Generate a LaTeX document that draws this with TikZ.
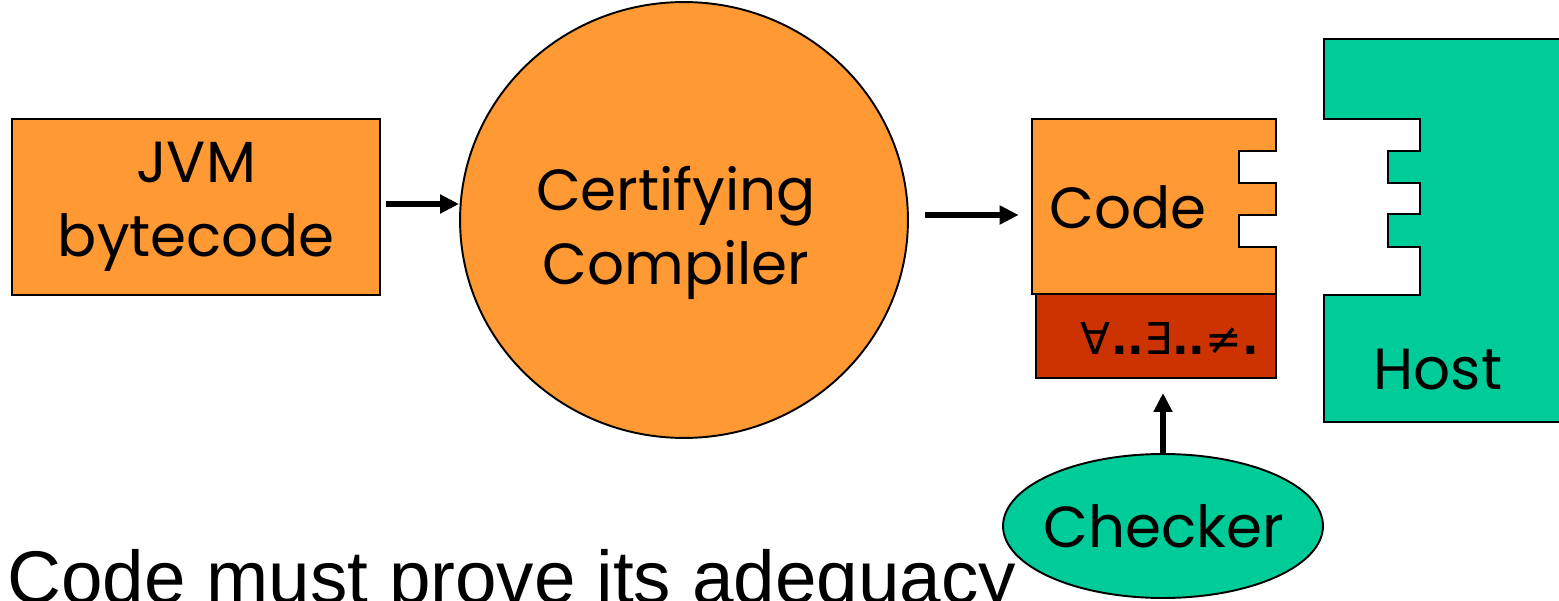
\documentclass[tikz,border=0pt]{standalone}
\usepackage{fontspec}
\setmainfont{Poppins}
\newfontfamily\capfont{Liberation Sans}
\newfontfamily\logicfont{DejaVu Sans}
\usetikzlibrary{arrows.meta,positioning,shapes.geometric,calc}
\definecolor{jvmorange}{RGB}{255,153,51}
\definecolor{proofred}{RGB}{204,51,0}
\definecolor{hostgreen}{RGB}{0,204,153}
\tikzset{
  lbl/.style      ={font=\fontsize{33}{42}\selectfont, align=center,
                    inner sep=0pt},
  orangebox/.style={draw, line width=1.1pt, fill=jvmorange, lbl},
  ovalbox/.style  ={ellipse, draw, line width=1.1pt, inner sep=0pt},
  arr/.style      ={-{Triangle[length=0.38cm,width=0.36cm]}, line width=2.9pt},
}

\begin{document}
\begin{tikzpicture}[x=0.02cm, y=-0.02cm]
  \useasboundingbox (0,0) rectangle (1559,601);
  \clip (0,0) rectangle (1559,601);

  % source and compiler
  \node[orangebox, minimum width=7.36cm, minimum height=3.52cm] (jvm) at (196,207) {JVM\\bytecode};
  \node[ovalbox, fill=jvmorange, minimum width=8.96cm, minimum height=8.72cm] (comp) at (684,220) {};
  \node[lbl] (comptxt) at (676,233) {Certifying\\Compiler};

  % host with its sockets
  \path[draw, fill=hostgreen, line width=1.1pt]
    (1600,39) -- (1324,39) -- (1324,119) -- (1420,119) -- (1420,151) -- (1388,151)
    -- (1388,183) -- (1420,183) -- (1420,214) -- (1388,214) -- (1388,247)
    -- (1420,247) -- (1420,295) -- (1324,295) -- (1324,422) -- (1600,422);
  \node[lbl] (host) at (1438,370) {Host};

  % certified code and its proof
  \path[draw, fill=jvmorange, line width=1.1pt]
    (1032,119) -- (1276,119) -- (1276,151) -- (1239,151) -- (1239,183) -- (1276,183)
    -- (1276,215) -- (1239,215) -- (1239,247) -- (1276,247) -- (1276,294)
    -- (1032,294) -- cycle;
  \node[minimum width=4.88cm, minimum height=3.5cm, inner sep=0pt] (code) at (1154,206.5) {};
  \node[lbl] (codetxt) at (1128,207) {Code};
  \node[draw, line width=1.1pt, fill=proofred, minimum width=4.8cm, minimum height=1.68cm,
        inner sep=0pt] (proof) at (1156,336) {};
  \node[font=\logicfont\fontsize{25}{30}\selectfont, inner sep=0pt] (prooftxt) at (1170,338)
    {∀\textbf{..}∃\textbf{..}≠\textbf{.}};

  \node[ovalbox, fill=hostgreen, minimum width=6.4cm, minimum height=2.88cm] (checker) at (1163,526) {};
  \node[lbl] (checktxt) at (1164,526) {Checker};

  % connectors
  \draw[arr, shorten <=0.1cm] ([yshift=0.06cm]jvm.east) -- ([yshift=0.06cm]jvm.east -| comp.west);
  \draw[arr, shorten <=0.32cm, shorten >=0.26cm] ([yshift=-0.17cm]code.west -| comp.east) -- ([yshift=-0.17cm]code.west);
  \draw[arr, shorten >=0.28cm] (checker.north) -- (checker.north |- proof.south);

  \node[font=\capfont\fontsize{42.5}{50}\selectfont, anchor=base west, inner sep=0pt] (claim) at (7,603) {Code must prove its adequacy};
\end{tikzpicture}
\end{document}
